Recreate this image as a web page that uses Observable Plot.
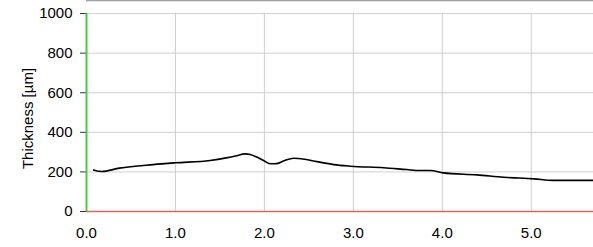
<!DOCTYPE html>
<html><head><meta charset="utf-8">
<script src="https://cdn.jsdelivr.net/npm/d3@7"></script>
<script src="https://cdn.jsdelivr.net/npm/@observablehq/plot@0.6"></script>
<style>
html,body{margin:0;padding:0;background:#fff;}
svg{display:block;}
</style>
</head><body>
<div id="chart"></div>
<script>
const xs = [0.08,0.17,0.37,0.75,1.0,1.39,1.57,1.70,1.78,1.84,1.92,2.0,2.07,2.14,2.22,2.33,2.45,2.59,2.78,2.97,3.34,3.60,3.75,3.87,4.01,4.39,4.69,5.03,5.25,5.40,5.70];
const thickness = [210,202,219,237,246,258,271,283,291,288,274,255,241,242,256,269,264,252,237,229,221,212,207,207,195,185,173,165,157,157,157];
const xTicks = [0,1,2,3,4,5];
const yTicks = [0,200,400,600,800,1000];
const xDomain = [0, 5.70];
const yDomain = [0, 1066];
const yLabel = "Thickness [µm]";

const data = xs.map((x, i) => ({x, y: thickness[i]}));

const chart = Plot.plot({
  width: 593,
  height: 247,
  marginTop: 0,
  marginRight: 0,
  marginBottom: 36,
  marginLeft: 86,
  style: {fontFamily: "'Liberation Sans', Arial, sans-serif", fontSize: "15px", color: "#000", background: "#fff"},
  x: {domain: xDomain},
  y: {domain: yDomain},
  marks: [
    Plot.ruleY(yTicks, {stroke: "#cfcfcf", strokeWidth: 1, strokeOpacity: 1}),
    Plot.ruleX(xTicks, {y1: yTicks[0], y2: yTicks[yTicks.length - 1], stroke: "#cfcfcf", strokeOpacity: 1}),
    Plot.ruleY([yDomain[1]], {stroke: "#a0a0a0", strokeWidth: 1.5}),
    Plot.axisX({ticks: xTicks, tickSize: 0, tickPadding: 16, tickFormat: d3.format(".1f"), label: null}),
    Plot.axisY({ticks: yTicks, tickSize: 6, tickPadding: 8, tickFormat: d => String(d), label: null, stroke: "#333"}),
    Plot.text([yLabel], {frameAnchor: "left", rotate: -90, dx: -58.5, dy: 12.5, text: d => d, fontSize: 15, fill: "#000", lineAnchor: "middle", textAnchor: "middle"}),
    Plot.ruleY([0], {stroke: "#e06666", strokeWidth: 1.5}),
    Plot.ruleX([0], {y1: yTicks[0], y2: yTicks[yTicks.length - 1], stroke: "#44cc44", strokeWidth: 2}),
    Plot.line(data, {x: "x", y: "y", stroke: "#000", strokeWidth: 1.6, curve: "monotone-x"})
  ]
});
document.getElementById("chart").appendChild(chart);
</script>
</body></html>
